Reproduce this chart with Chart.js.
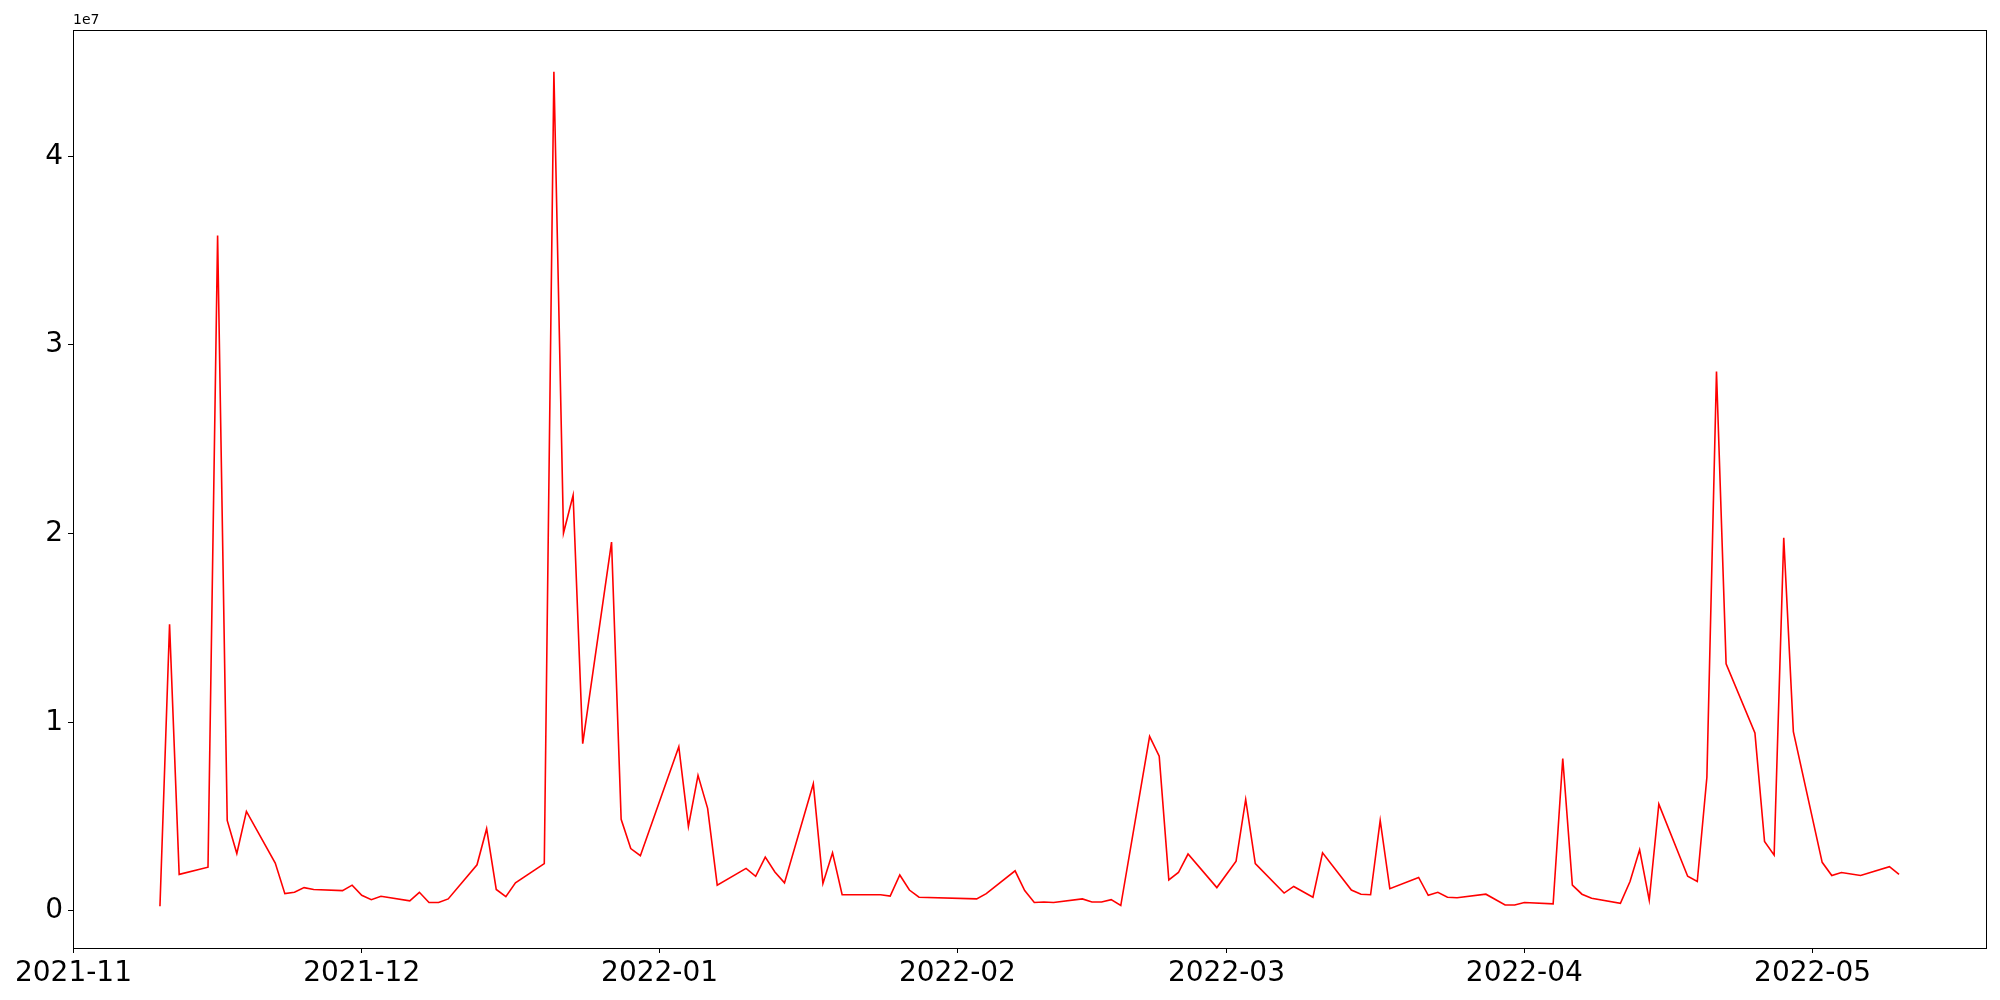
<!DOCTYPE html>
<html>
<head>
<meta charset="utf-8">
<script src="https://cdn.jsdelivr.net/npm/chart.js@4"></script>
<style>
  html, body { margin: 0; padding: 0; background: #fff; }
  #wrap { width: 2000px; height: 1000px; }
</style>
</head>
<body>
<div id="wrap"><canvas id="chart" width="2000" height="1000"></canvas></div>
<script>
// trading days and daily values
const dates = [
  '2021-11-10','2021-11-11','2021-11-12','2021-11-15','2021-11-16','2021-11-17','2021-11-18','2021-11-19',
  '2021-11-22','2021-11-23','2021-11-24','2021-11-25','2021-11-26','2021-11-29','2021-11-30',
  '2021-12-01','2021-12-02','2021-12-03','2021-12-06','2021-12-07','2021-12-08','2021-12-09','2021-12-10',
  '2021-12-13','2021-12-14','2021-12-15','2021-12-16','2021-12-17','2021-12-20','2021-12-21','2021-12-22',
  '2021-12-23','2021-12-24','2021-12-27','2021-12-28','2021-12-29','2021-12-30',
  '2022-01-03','2022-01-04','2022-01-05','2022-01-06','2022-01-07','2022-01-10','2022-01-11','2022-01-12',
  '2022-01-13','2022-01-14','2022-01-17','2022-01-18','2022-01-19','2022-01-20','2022-01-21','2022-01-24',
  '2022-01-25','2022-01-26','2022-01-27','2022-01-28',
  '2022-02-03','2022-02-04','2022-02-07','2022-02-08','2022-02-09','2022-02-10','2022-02-11','2022-02-14',
  '2022-02-15','2022-02-16','2022-02-17','2022-02-18','2022-02-21','2022-02-22','2022-02-23','2022-02-24',
  '2022-02-25','2022-02-28',
  '2022-03-02','2022-03-03','2022-03-04','2022-03-07','2022-03-08','2022-03-10','2022-03-11','2022-03-14',
  '2022-03-15','2022-03-16','2022-03-17','2022-03-18','2022-03-21','2022-03-22','2022-03-23','2022-03-24',
  '2022-03-25','2022-03-28','2022-03-30','2022-03-31',
  '2022-04-01','2022-04-04','2022-04-05','2022-04-06','2022-04-07','2022-04-08','2022-04-11','2022-04-12',
  '2022-04-13','2022-04-14','2022-04-15','2022-04-18','2022-04-19','2022-04-20','2022-04-21','2022-04-22',
  '2022-04-25','2022-04-26','2022-04-27','2022-04-28','2022-04-29',
  '2022-05-02','2022-05-03','2022-05-04','2022-05-06','2022-05-09','2022-05-10'
];

const values = [
  250000, 15200000, 1940000, 2320000, 35800000, 4800000, 3050000, 5280000,
  2540000, 920000, 990000, 1240000, 1140000, 1080000, 1370000,
  830000, 600000, 780000, 540000, 990000, 450000, 450000, 640000,
  2450000, 4360000, 1140000, 760000, 1490000, 2510000, 44480000, 20030000,
  22030000, 8870000, 19550000, 4860000, 3310000, 2930000,
  8710000, 4480000, 7190000, 5440000, 1370000, 2260000, 1840000, 2860000,
  2070000, 1490000, 6740000, 1460000, 3080000, 860000, 860000, 860000,
  790000, 1910000, 1110000, 730000,
  640000, 920000, 2130000, 1080000, 450000, 480000, 450000, 640000,
  480000, 480000, 600000, 290000, 9250000, 8200000, 1650000, 2040000,
  3020000, 1240000,
  2640000, 5910000, 2510000, 950000, 1300000, 730000, 3080000, 1110000,
  890000, 860000, 4800000, 1180000, 1780000, 830000, 990000, 730000,
  700000, 890000, 320000, 320000,
  450000, 380000, 8080000, 1370000, 890000, 670000, 410000, 1560000,
  3240000, 570000, 5660000, 1840000, 1560000, 7090000, 28590000, 13100000,
  9440000, 3690000, 2960000, 19780000, 9510000,
  2580000, 1880000, 2040000, 1880000, 2350000, 1940000
];

const tickLabels = ['2021-11', '2021-12', '2022-01', '2022-02', '2022-03', '2022-04', '2022-05'];
const yTicks = [0, 10000000, 20000000, 30000000, 40000000];

const DAY = 86400000;
const toDay = s => Date.parse(s + 'T00:00:00Z') / DAY;

const points = dates.map((d, i) => ({ x: toDay(d), y: values[i] }));
const xTickPos = tickLabels.map(t => toDay(t + '-01'));

// matplotlib style 5% margins
const xFirst = points[0].x, xLast = points[points.length - 1].x;
const xPad = (xLast - xFirst) * 0.05;
const yMinV = Math.min(...values), yMaxV = Math.max(...values);
const yPad = (yMaxV - yMinV) * 0.05;

const frame = {
  id: 'frame',
  afterDraw(chart) {
    const a = chart.chartArea, ctx = chart.ctx;
    ctx.save();
    ctx.strokeStyle = '#000';
    ctx.lineWidth = 1;
    ctx.strokeRect(Math.round(a.left) + 0.5, Math.round(a.top) + 0.5,
      Math.round(a.right - a.left), Math.round(a.bottom - a.top));
    ctx.fillStyle = '#000';
    ctx.font = '14px "DejaVu Sans"';
    ctx.textAlign = 'left';
    ctx.textBaseline = 'bottom';
    ctx.fillText('1e7', a.left, a.top - 3);
    ctx.restore();
  }
};

const ctx = document.querySelector('#chart').getContext('2d');
const chart = new Chart(ctx, {
  type: 'line',
  data: {
    datasets: [{
      data: points,
      borderColor: 'red',
      borderWidth: 1.6,
      pointRadius: 0,
      tension: 0,
      fill: false
    }]
  },
  options: {
    responsive: false,
    animation: false,
    events: [],
    layout: { padding: { left: 0, right: 14, top: 30, bottom: 0 } },
    plugins: {
      legend: { display: false },
      tooltip: { enabled: false }
    },
    scales: {
      x: {
        type: 'linear',
        min: xFirst - xPad,
        max: xLast + xPad,
        afterBuildTicks: axis => { axis.ticks = xTickPos.map(v => ({ value: v })); },
        afterFit: axis => { axis.height = 52; },
        grid: { display: true, drawOnChartArea: false, drawTicks: true, tickLength: 5, tickColor: '#000', tickWidth: 1 },
        border: { display: true, color: '#000', width: 1 },
        ticks: {
          color: '#000',
          padding: 4,
          maxRotation: 0,
          autoSkip: false,
          font: { family: 'DejaVu Sans', size: 28 },
          callback: v => tickLabels[xTickPos.indexOf(v)]
        }
      },
      y: {
        type: 'linear',
        min: yMinV - yPad,
        max: yMaxV + yPad,
        afterBuildTicks: axis => { axis.ticks = yTicks.map(v => ({ value: v })); },
        afterFit: axis => { axis.width = 73; },
        grid: { display: true, drawOnChartArea: false, drawTicks: true, tickLength: 5, tickColor: '#000', tickWidth: 1 },
        border: { display: true, color: '#000', width: 1 },
        ticks: {
          color: '#000',
          padding: 5,
          font: { family: 'DejaVu Sans', size: 28 },
          callback: v => String(Math.round(v / 1e7))
        }
      }
    }
  },
  plugins: [frame]
});
</script>
</body>
</html>
